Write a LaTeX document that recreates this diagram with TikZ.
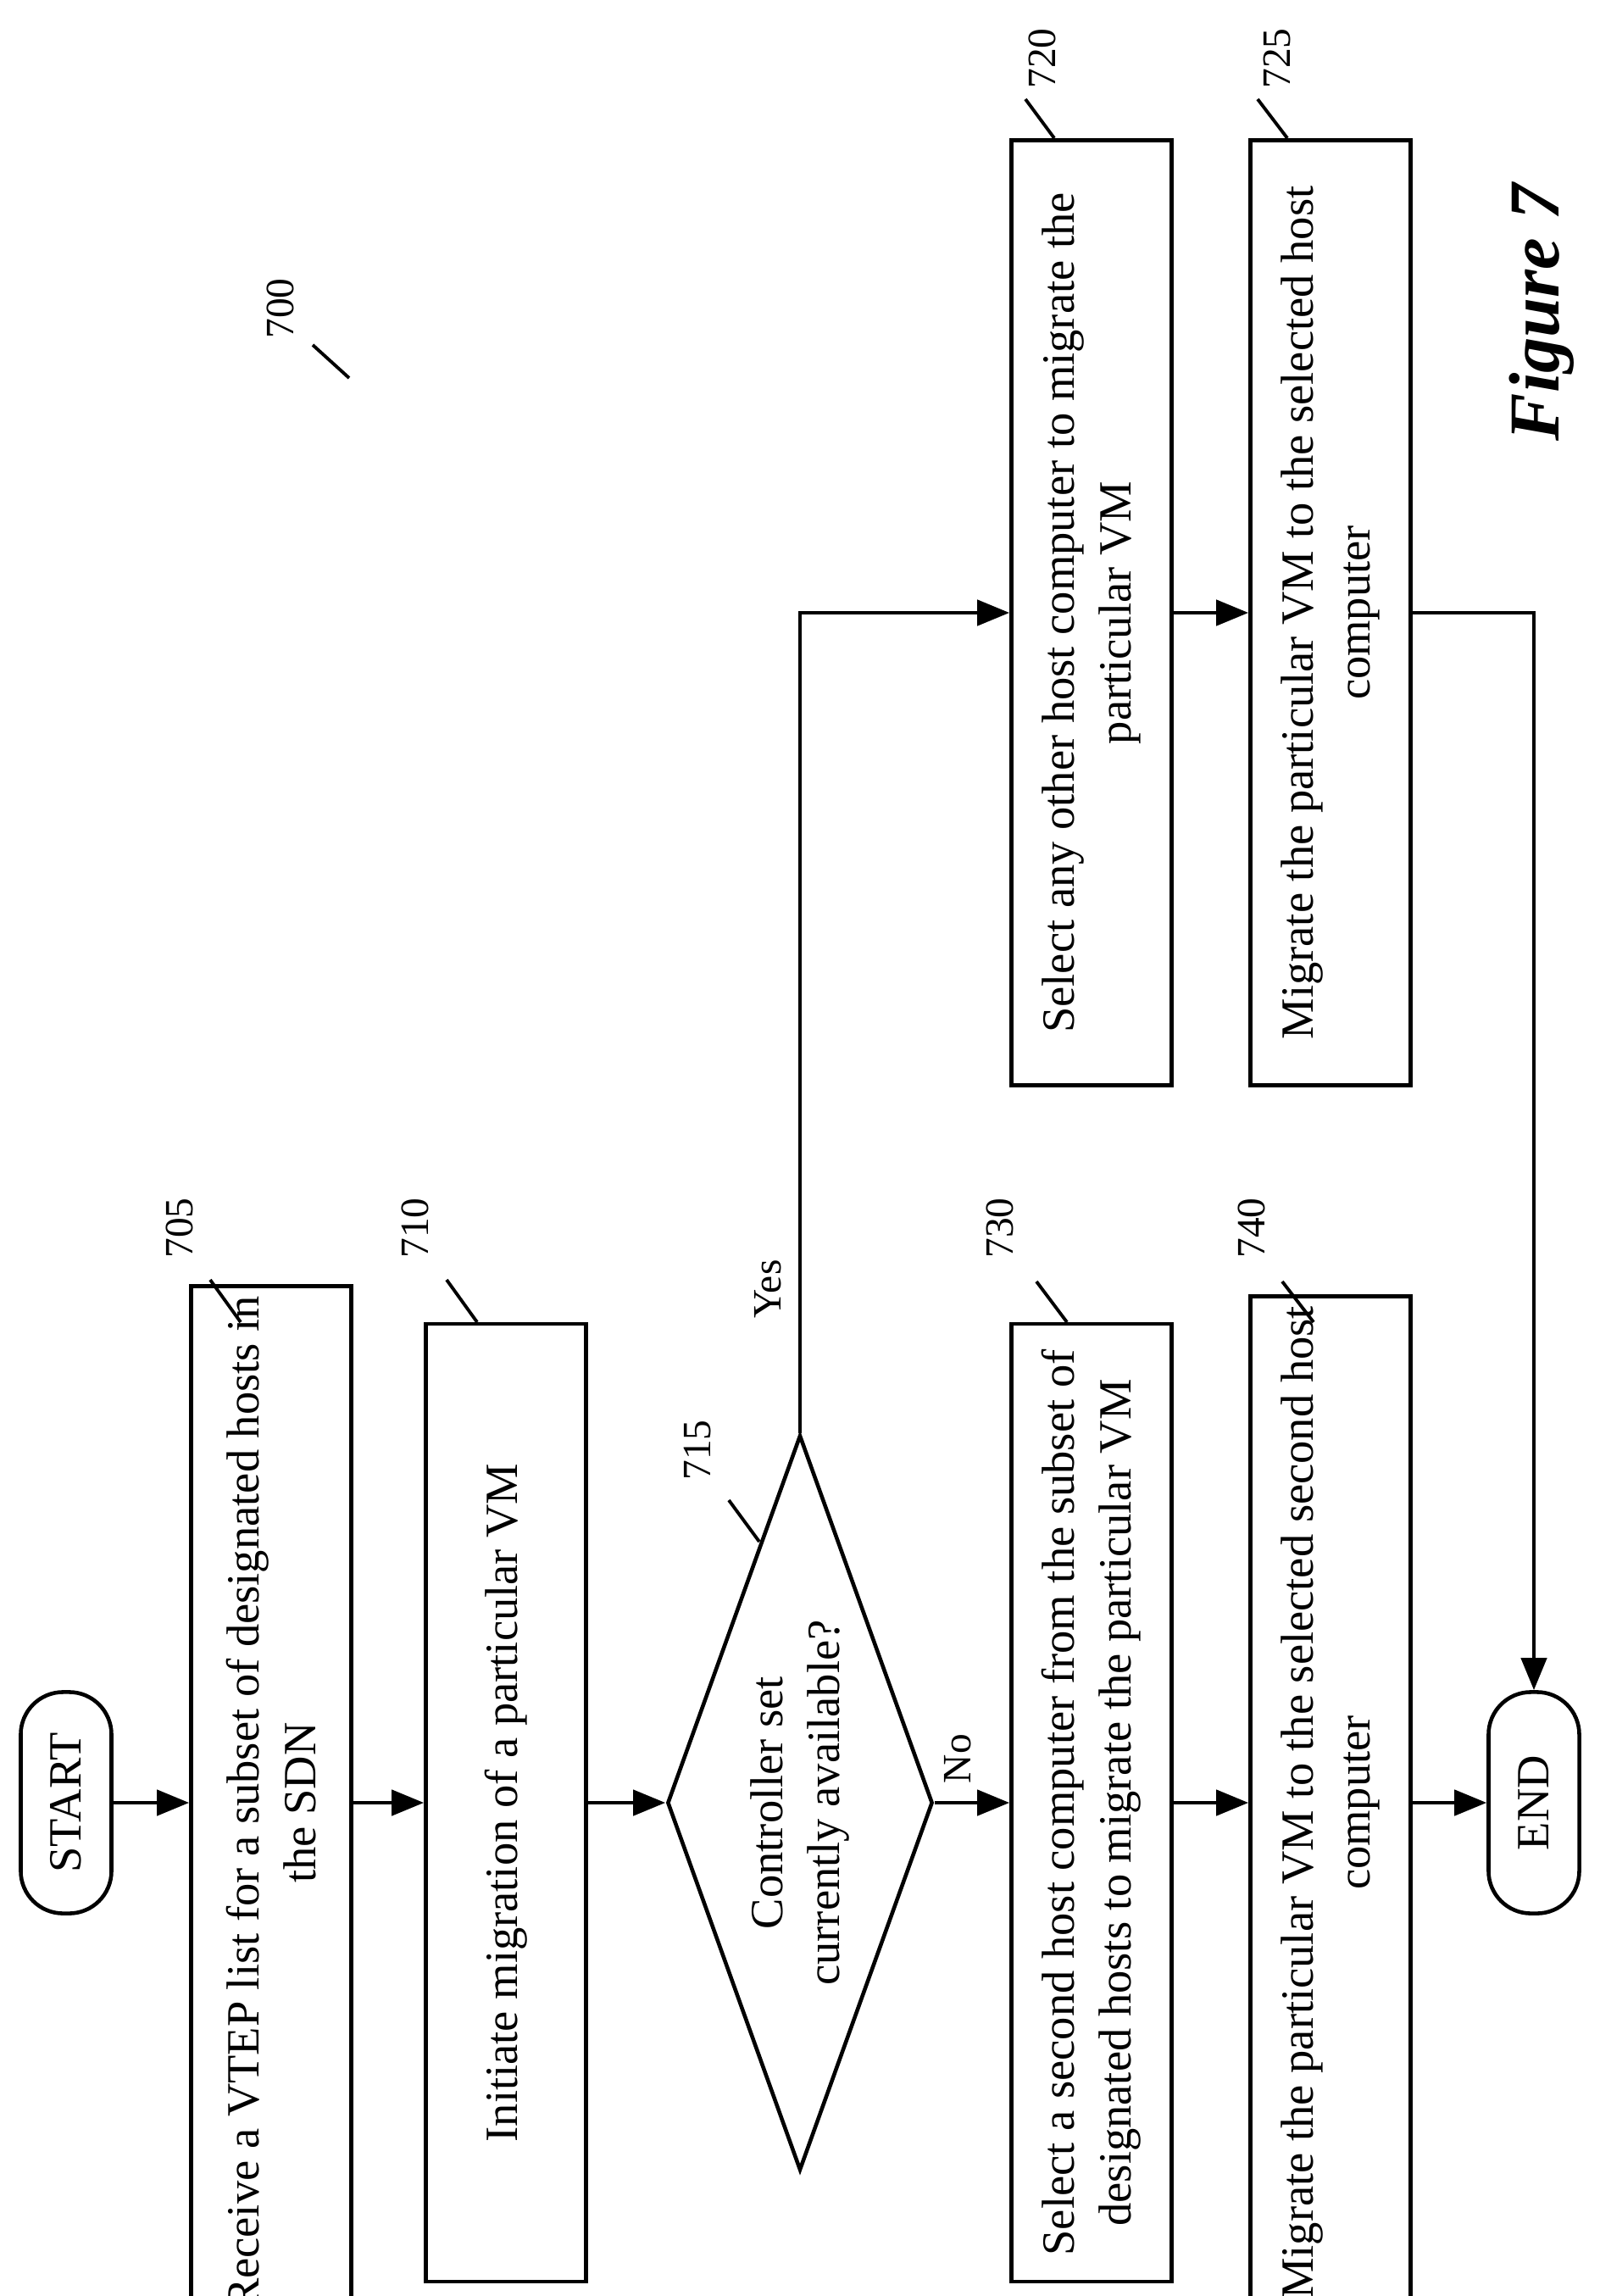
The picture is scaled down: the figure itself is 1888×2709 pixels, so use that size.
\documentclass[tikz,border=0pt]{standalone}
\usepackage{fontspec}
\setmainfont{Liberation Serif}
\usetikzlibrary{shapes.geometric,arrows.meta}

\tikzset{
  flowbox/.style={draw, line width=1.3pt, rotate=90, minimum width=11.29cm, minimum height=1.89cm,
    align=center, font=\fontsize{15.5}{19}\selectfont},
  term/.style={draw, line width=1.3pt, rotate=90, rounded corners=0.5cm, minimum width=2.61cm,
    minimum height=1.07cm, font=\fontsize{15.5}{19}\selectfont},
  decide/.style={draw, line width=1.3pt, diamond, rotate=90, shape aspect=2.77, inner sep=0pt,
    minimum width=8.67cm, minimum height=3.13cm, align=center, font=\fontsize{15.5}{19}\selectfont},
  lbl/.style={rotate=90, font=\fontsize{13.5}{16}\selectfont},
  flow/.style={line width=1.3pt, -{Triangle[length=0.38cm,width=0.3cm]}},
  tick/.style={line width=1.1pt}
}

\begin{document}
\begin{tikzpicture}[x=0.01cm, y=-0.01cm]
    \useasboundingbox (0,0) rectangle (1888,2709);

    % main column
    \node[term] (start) at (78,2127) {START};
    \node[flowbox] (b705) at (320,2127) {Receive a VTEP list for a subset of designated hosts in\\the SDN};
    \node[flowbox] (b710) at (597,2127) {Initiate migration of a particular VM};
    \node[decide] (d715) at (944,2127) {Controller set\\currently available?};
    \node[flowbox] (b730) at (1288,2127) {Select a second host computer from the subset of\\designated hosts to migrate the particular VM};
    \node[flowbox] (b740) at (1570,2127) {Migrate the particular VM to the selected second host\\computer};
    \node[term] (end) at (1810,2127) {END};

    % yes branch
    \node[flowbox, minimum width=11.14cm] (b720) at (1288,723) {Select any other host computer to migrate the\\particular VM};
    \node[flowbox, minimum width=11.14cm] (b725) at (1570,723) {Migrate the particular VM to the selected host\\computer};

    \draw[flow] (start.south) -- (b705.north);
    \draw[flow] (b705.south) -- (b710.north);
    \draw[flow] (b710.south) -- (d715.north);
    \draw[flow] (d715.south) -- (b730.north);
    \node[lbl] (no) at (1130,2075) {No};
    \draw[flow] (b730.south) -- (b740.north);
    \draw[flow] (b740.south) -- (end.north);
    \draw[flow] (d715.east) |- (b720.north);
    \node[lbl] (yes) at (906,1521) {Yes};
    \draw[flow] (b720.south) -- (b725.north);
    \draw[flow] (b725.south) -| (end.east);

    % reference numerals
    \node[lbl] (l700) at (331,364) {700};
    \draw[tick] (369,407) -- (412,446);
    \node[lbl] (l705) at (212,1449) {705};
    \draw[tick] (248,1510) -- (284,1560);
    \node[lbl] (l710) at (490,1449) {710};
    \draw[tick] (527,1510) -- (563,1560);
    \node[lbl] (l715) at (823,1711) {715};
    \draw[tick] (860,1770) -- (896,1819);
    \node[lbl] (l730) at (1180,1449) {730};
    \draw[tick] (1223,1512) -- (1259,1560);
    \node[lbl] (l740) at (1477,1449) {740};
    \draw[tick] (1513,1512) -- (1550,1560);
    \node[lbl] (l720) at (1230,69) {720};
    \draw[tick] (1210,117) -- (1244,163);
    \node[lbl] (l725) at (1507,69) {725};
    \draw[tick] (1484,117) -- (1519,163);

    \node[rotate=90, font=\fontsize{24}{28}\selectfont\bfseries\itshape] (fig) at (1819,369) {Figure 7};
\end{tikzpicture}
\end{document}
